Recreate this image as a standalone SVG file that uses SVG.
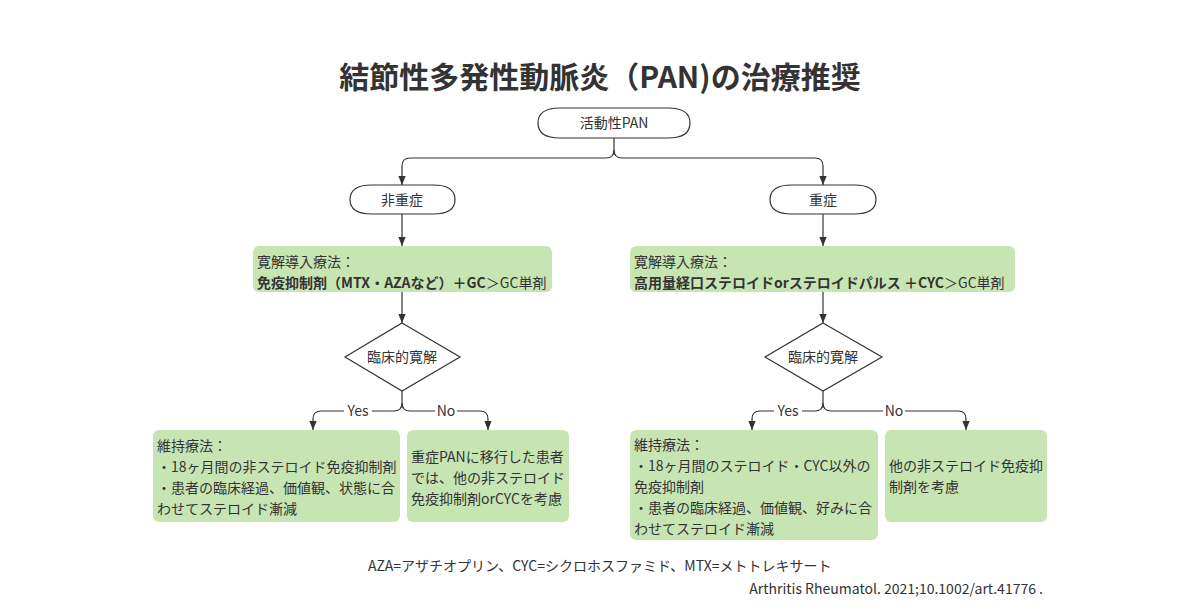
<svg xmlns="http://www.w3.org/2000/svg" width="1200" height="615" viewBox="0 0 1200 615">
<defs>
<style>
text{font-family:"Noto Sans CJK JP","Noto Sans",sans-serif;fill:#333;}
.t{font-size:14px;}
.c{text-anchor:middle;}
.b{font-weight:bold;}
.shape{fill:#fff;stroke:#333;stroke-width:1.2;}
.box{fill:#c7e5b3;}
.ln{fill:none;stroke:#333;stroke-width:1.2;}
.lbl{fill:#fff;}
</style>
<marker id="ah" markerUnits="userSpaceOnUse" markerWidth="10" markerHeight="12" refX="5" refY="11" orient="auto-start-reverse" viewBox="0 0 10 12">
<path d="M0.5,0 L9.5,0 L5,11 z" fill="#333" transform="rotate(0)"/>
</marker>
<marker id="ad" markerUnits="userSpaceOnUse" markerWidth="10" markerHeight="12" refX="11" refY="5" orient="auto" viewBox="0 0 12 10">
<path d="M0,0.5 L11,5 L0,9.5 z" fill="#333"/>
</marker>
</defs>
<rect width="1200" height="615" fill="#fff"/>
<text x="600" y="88" class="c b" style="font-size:30px">結節性多発性動脈炎（PAN)の治療推奨</text>

<g id="connectors">
<path class="ln" marker-end="url(#ad)" d="M614,138 V150 Q614,158 606,158 H410 Q402,158 402,166 V185"/>
<path class="ln" marker-end="url(#ad)" d="M614,150 Q614,158 622,158 H815 Q823,158 823,166 V185"/>
<path class="ln" marker-end="url(#ad)" d="M402,214 V246"/>
<path class="ln" marker-end="url(#ad)" d="M823,214 V246"/>
<path class="ln" marker-end="url(#ad)" d="M402,292 V323"/>
<path class="ln" marker-end="url(#ad)" d="M823,292 V323"/>
<path class="ln" marker-end="url(#ad)" d="M402,391 V403 Q402,411 394,411 H321 Q313,411 313,419 V430"/>
<path class="ln" marker-end="url(#ad)" d="M402,403 Q402,411 410,411 H480 Q488,411 488,419 V430"/>
<path class="ln" marker-end="url(#ad)" d="M823,391 V403 Q823,411 815,411 H760 Q752,411 752,419 V430"/>
<path class="ln" marker-end="url(#ad)" d="M823,403 Q823,411 831,411 H958 Q966,411 966,419 V430"/>
<rect class="lbl" x="344" y="403" width="28" height="16"/>
<text x="358" y="416" class="t c">Yes</text>
<rect class="lbl" x="435" y="403" width="22" height="16"/>
<text x="446" y="416" class="t c">No</text>
<rect class="lbl" x="774" y="403" width="28" height="16"/>
<text x="788" y="416" class="t c">Yes</text>
<rect class="lbl" x="883" y="403" width="22" height="16"/>
<text x="894" y="416" class="t c">No</text>
</g>

<g id="n-start">
<path class="shape" d="M560,108 H668 Q690,108 690,123 Q690,138 668,138 H560 Q538,138 538,123 Q538,108 560,108 z"/>
<text x="614" y="128" class="t c">活動性PAN</text>
</g>
<g id="n-nonsevere">
<path class="shape" d="M372,185 H433 Q455,185 455,199.5 Q455,214 433,214 H372 Q350,214 350,199.5 Q350,185 372,185 z"/>
<text x="402" y="205" class="t c">非重症</text>
</g>
<g id="n-severe">
<path class="shape" d="M792,185 H854 Q876,185 876,199.5 Q876,214 854,214 H792 Q770,214 770,199.5 Q770,185 792,185 z"/>
<text x="823" y="205" class="t c">重症</text>
</g>
<g id="n-induct-left">
<rect class="box" x="253" y="246" width="299" height="46" rx="6"/>
<text x="257" y="267" class="t">寛解導入療法：</text>
<text x="257" y="288" class="t"><tspan class="b">免疫抑制剤（MTX・AZAなど）＋GC</tspan>＞GC単剤</text>
</g>
<g id="n-induct-right">
<rect class="box" x="630" y="246" width="385" height="46" rx="6"/>
<text x="634" y="267" class="t">寛解導入療法：</text>
<text x="634" y="288" class="t"><tspan class="b">高用量経口ステロイドorステロイドパルス ＋CYC</tspan>＞GC単剤</text>
</g>
<g id="n-dec-left">
<path class="shape" d="M402,323 L460,357 L402,391 L345,357 z"/>
<text x="402" y="362" class="t c">臨床的寛解</text>
</g>
<g id="n-dec-right">
<path class="shape" d="M823,323 L882,357 L823,391 L765,357 z"/>
<text x="823" y="362" class="t c">臨床的寛解</text>
</g>
<g id="n-maint-left">
<rect class="box" x="153" y="430" width="247" height="92" rx="6"/>
<text x="157" y="451" class="t">維持療法：</text>
<text x="157" y="472" class="t">・18ヶ月間の非ステロイド免疫抑制剤</text>
<text x="157" y="493" class="t">・患者の臨床経過、価値観、状態に合</text>
<text x="157" y="514" class="t">わせてステロイド漸減</text>
</g>
<g id="n-no-left">
<rect class="box" x="407" y="430" width="162" height="92" rx="6"/>
<text x="411" y="462" class="t">重症PANに移行した患者</text>
<text x="411" y="483" class="t">では、他の非ステロイド</text>
<text x="411" y="504" class="t">免疫抑制剤orCYCを考慮</text>
</g>
<g id="n-maint-right">
<rect class="box" x="630" y="430" width="248" height="110" rx="6"/>
<text x="634" y="450" class="t">維持療法：</text>
<text x="634" y="471" class="t">・18ヶ月間のステロイド・CYC以外の</text>
<text x="634" y="492" class="t">免疫抑制剤</text>
<text x="634" y="513" class="t">・患者の臨床経過、価値観、好みに合</text>
<text x="634" y="534" class="t">わせてステロイド漸減</text>
</g>
<g id="n-no-right">
<rect class="box" x="885" y="430" width="162" height="92" rx="6"/>
<text x="889" y="471" class="t">他の非ステロイド免疫抑</text>
<text x="889" y="492" class="t">制剤を考慮</text>
</g>

<text x="368" y="571" class="t">AZA=アザチオプリン、CYC=シクロホスファミド、MTX=メトトレキサート</text>
<text x="1043" y="594" class="t" style="text-anchor:end">Arthritis Rheumatol. 2021;10.1002/art.41776 .</text>
</svg>
